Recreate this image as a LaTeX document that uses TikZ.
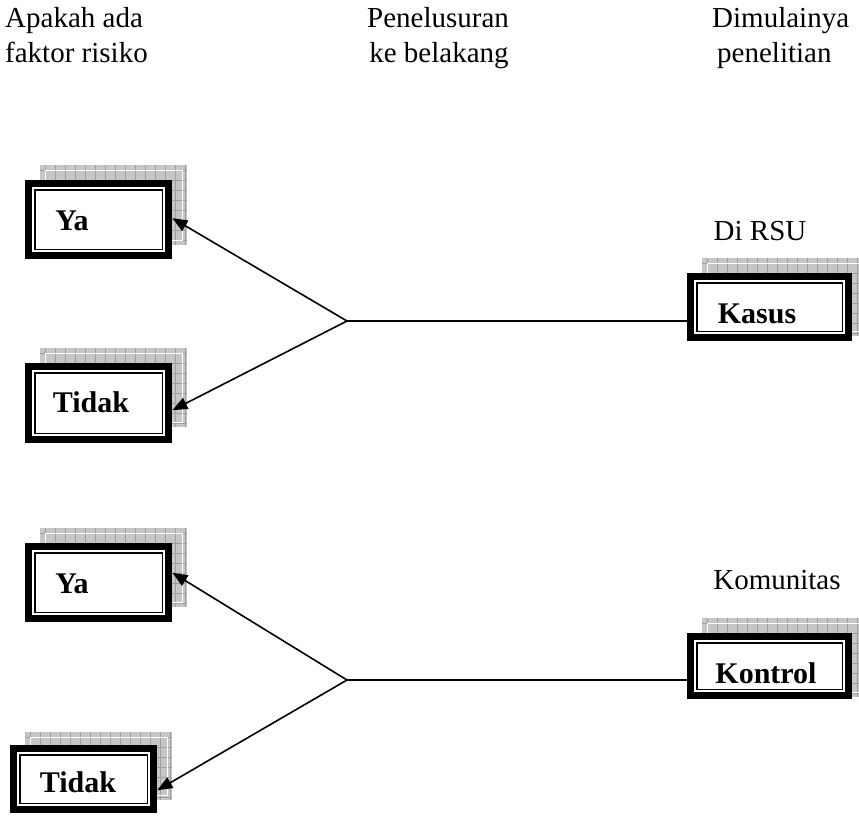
\documentclass[tikz,border=0pt]{standalone}
\usepackage{fontspec}
\setmainfont{Liberation Serif}
\usetikzlibrary{arrows.meta,calc}
\newcommand\myshadow[4]{%
  \begin{scope}
    \clip (#1,#2) rectangle (#3,#4);
    \fill[gray!45] (#1,#2) rectangle (#3,#4);
    \foreach \k in {0,...,17} {
      \draw[gray!75,line width=0.9pt] ({#1+10*\k+5},#2) -- ({#1+10*\k+5},#4);
    }
    \foreach \k in {0,...,9} {
      \draw[gray!75,line width=0.9pt] (#1,{#2+10*\k+5}) -- (#3,{#2+10*\k+5});
    }
  \end{scope}
  \draw[white,line width=0.8pt] ($(#1,#2)+(5,5)$) rectangle ($(#3,#4)+(-5,-5)$);
}
\begin{document}
\begin{tikzpicture}[x=1pt,y=-1pt,
  lbl/.style={font=\fontsize{29}{35}\selectfont,inner sep=0pt},
  boxtxt/.style={font=\fontsize{30}{35}\selectfont\bfseries,inner sep=0pt,anchor=base},
  dbox/.style={fill=white,inner sep=0pt,anchor=north west,path picture={
    \draw[line width=7pt] ([shift={(3.5,3.5)}]path picture bounding box.north west) rectangle ([shift={(-3.5,-3.5)}]path picture bounding box.south east);
    \draw[line width=1.6pt] ([shift={(9.8,9.8)}]path picture bounding box.north west) rectangle ([shift={(-9.8,-9.8)}]path picture bounding box.south east);
  }},
  conn/.style={line width=1.6pt},
  arr/.style={conn,-{Triangle[length=15pt,width=12pt]}},
]
\fill[white] (0,0) rectangle (859,823);
\useasboundingbox (0,0) rectangle (859,823);

% header texts
\node[lbl,anchor=base west] (h1a) at (5,27) {Apakah ada};
\node[lbl,anchor=base west] (h1b) at (5,62) {faktor risiko};
\node[lbl,anchor=base] (h2a) at (438,27) {Penelusuran};
\node[lbl,anchor=base] (h2b) at (439,62) {ke belakang};
\node[lbl,anchor=base west] (h3a) at (712,27) {Dimulainya};
\node[lbl,anchor=base west] (h3b) at (717,62) {penelitian};
\node[lbl,anchor=base] (rsu) at (760,240) {Di RSU};
\node[lbl,anchor=base] (kom) at (777,589) {Komunitas};

% shadows
\myshadow{40}{165}{187}{245}
\myshadow{40}{348}{187}{427}
\myshadow{40}{528}{187}{607}
\myshadow{25}{732}{172}{800}
\myshadow{702}{258}{870}{336}
\myshadow{702}{618}{870}{697}

% boxes
\node[dbox,minimum width=147,minimum height=79] (ya1) at (25,180) {};
\node[dbox,minimum width=147,minimum height=80] (td1) at (25,363) {};
\node[dbox,minimum width=147,minimum height=79] (ya2) at (25,543) {};
\node[dbox,minimum width=147,minimum height=68] (td2) at (10,745) {};
\node[dbox,minimum width=165,minimum height=68] (kasus) at (687,273) {};
\node[dbox,minimum width=165,minimum height=66] (kontrol) at (687,633) {};

\node[boxtxt] (ya1t) at (72,230) {Ya};
\node[boxtxt] (td1t) at (91,412) {Tidak};
\node[boxtxt] (ya2t) at (72,593) {Ya};
\node[boxtxt] (td2t) at (78,792) {Tidak};
\node[boxtxt] (kasust) at (757,323) {Kasus};
\node[boxtxt] (kontrolt) at (766,683) {Kontrol};

% connectors
\coordinate (j1) at (347,321);
\coordinate (j2) at (347,680);
\draw[conn] (j1) -- (kasus.west |- j1);
\draw[conn] (j2) -- (kontrol.west |- j2);
\draw[arr] (j1) -- ([shift={(0,-1.5)}]ya1.east);
\draw[arr] (j1) -- ([shift={(0,7)}]td1.east);
\draw[arr] (j2) -- ([shift={(0,-10)}]ya2.east);
\draw[arr] (j2) -- ([shift={(0,11)}]td2.east);
\end{tikzpicture}
\end{document}
